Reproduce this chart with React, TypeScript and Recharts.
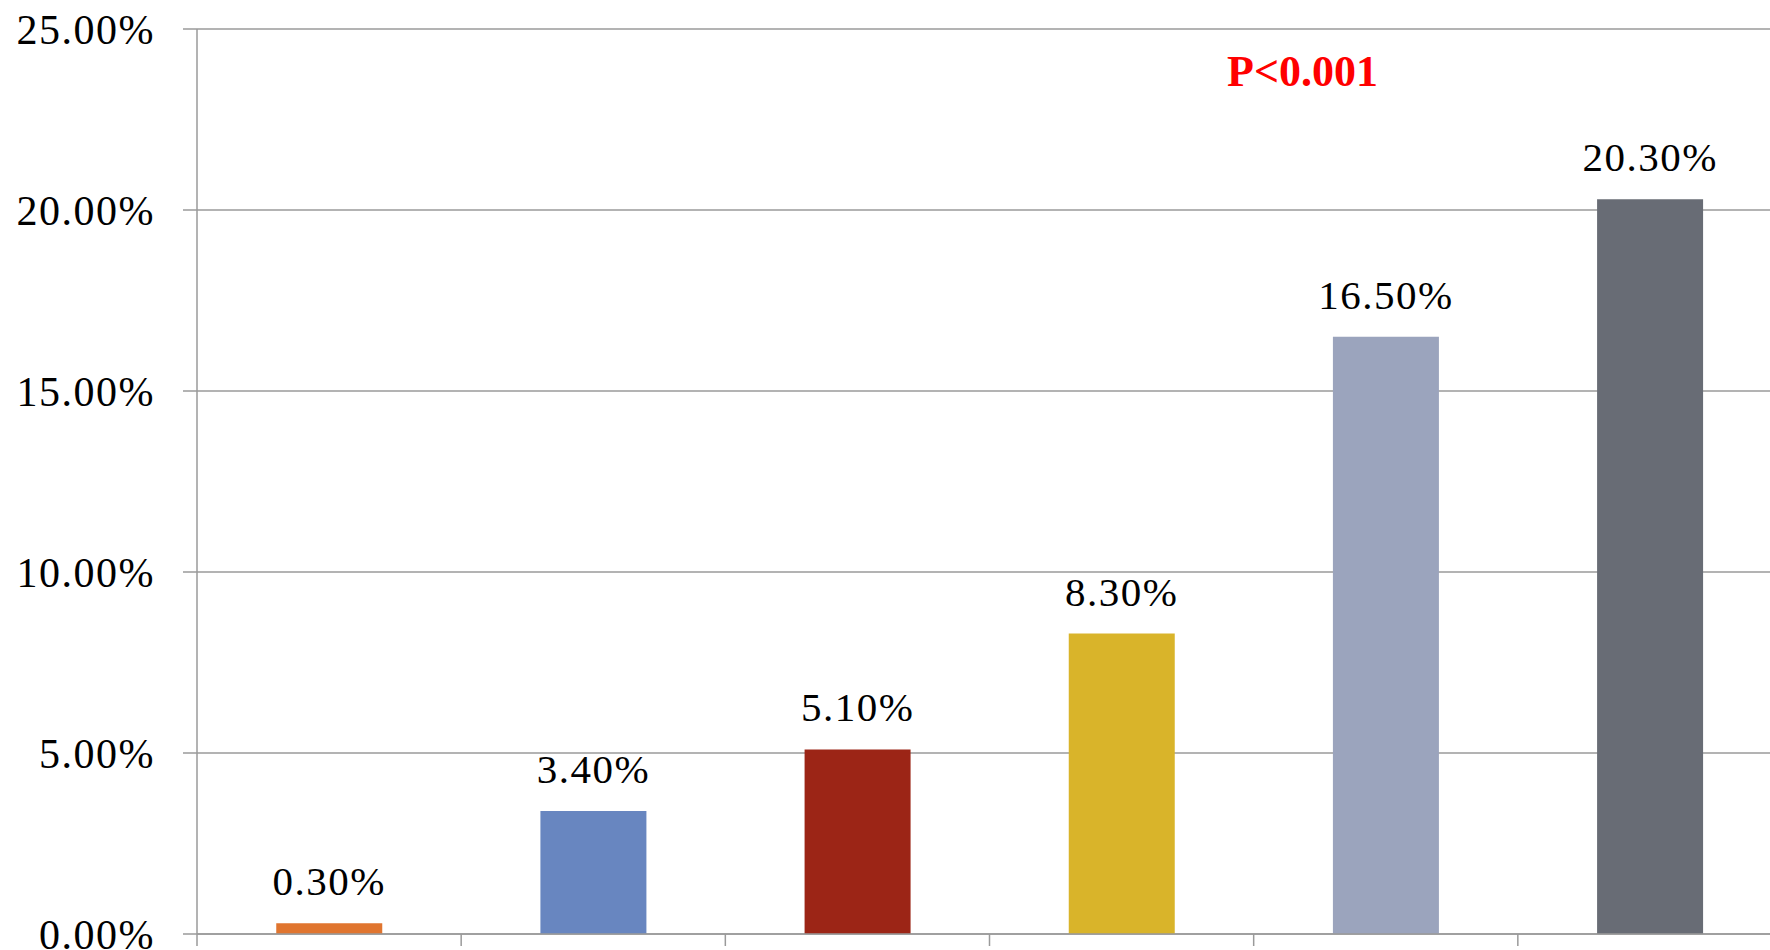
import { BarChart, Bar, XAxis, YAxis, CartesianGrid, Cell, LabelList } from "recharts";

const groups = ["A", "B", "C", "D", "E", "F"];
const rates = [0.3, 3.4, 5.1, 8.3, 16.5, 20.3];
const barColors = ["#E0752F", "#6886C0", "#9C2516", "#D9B42A", "#9BA4BD", "#686C75"];
const yTicks = [0, 5, 10, 15, 20, 25];
const pValue = "P<0.001";

const data = groups.map((g, i) => ({ name: g, rate: rates[i] }));

const axisGray = "#9a9a9a";
const serif = "'Liberation Serif', 'Times New Roman', serif";

// category ticks sit on the band edges, not the band centres
const EdgeTick = (props: any) => {
    const { x, y, payload } = props;
    const half = payload && payload.offset ? payload.offset : 0;
    const left = x - half;
    return (
        <g>
            <line x1={left} x2={left} y1={y} y2={y + 12} stroke={axisGray} strokeWidth={1.5} />
        </g>
    );
};

export default function App() {
    return (
        <div
            style={{
                position: "absolute",
                left: 0,
                top: 0,
                width: 1770,
                height: 950,
                overflow: "hidden",
                background: "#fff",
            }}
        >
            <BarChart
                width={1787}
                height={950}
                data={data}
                margin={{ top: 29, right: 5, left: 0, bottom: 0 }}
                barCategoryGap="30%"
            >
                <CartesianGrid horizontal vertical={false} stroke={axisGray} strokeWidth={1.5} />
                <XAxis
                    dataKey="name"
                    height={16}
                    tickSize={0}
                    tickMargin={0}
                    tickLine={false}
                    interval={0}
                    tick={<EdgeTick />}
                    axisLine={{ stroke: axisGray, strokeWidth: 1.5 }}
                />
                <YAxis
                    domain={[0, 25]}
                    ticks={yTicks}
                    width={197}
                    tickSize={14}
                    tickMargin={28}
                    interval={0}
                    axisLine={{ stroke: axisGray, strokeWidth: 1.5 }}
                    tickLine={{ stroke: axisGray, strokeWidth: 1.5 }}
                    tickFormatter={(v: number) => v.toFixed(2) + "%"}
                    tick={{ fill: "#000", fontSize: 42, fontFamily: serif, letterSpacing: 1.5 }}
                />
                <Bar dataKey="rate" isAnimationActive={false}>
                    {data.map((d, i) => (
                        <Cell key={d.name} fill={barColors[i]} />
                    ))}
                    <LabelList
                        dataKey="rate"
                        position="top"
                        offset={28}
                        formatter={(v: any) => Number(v).toFixed(2) + "%"}
                        style={{ fill: "#000", fontSize: 41, fontFamily: serif, letterSpacing: 1.5 }}
                    />
                </Bar>
            </BarChart>
            <div
                style={{
                    position: "absolute",
                    left: 1227,
                    top: 46,
                    fontFamily: serif,
                    fontWeight: "bold",
                    fontSize: 44,
                    lineHeight: "52px",
                    color: "#FF0000",
                }}
            >
                {pValue}
            </div>
        </div>
    );
}
